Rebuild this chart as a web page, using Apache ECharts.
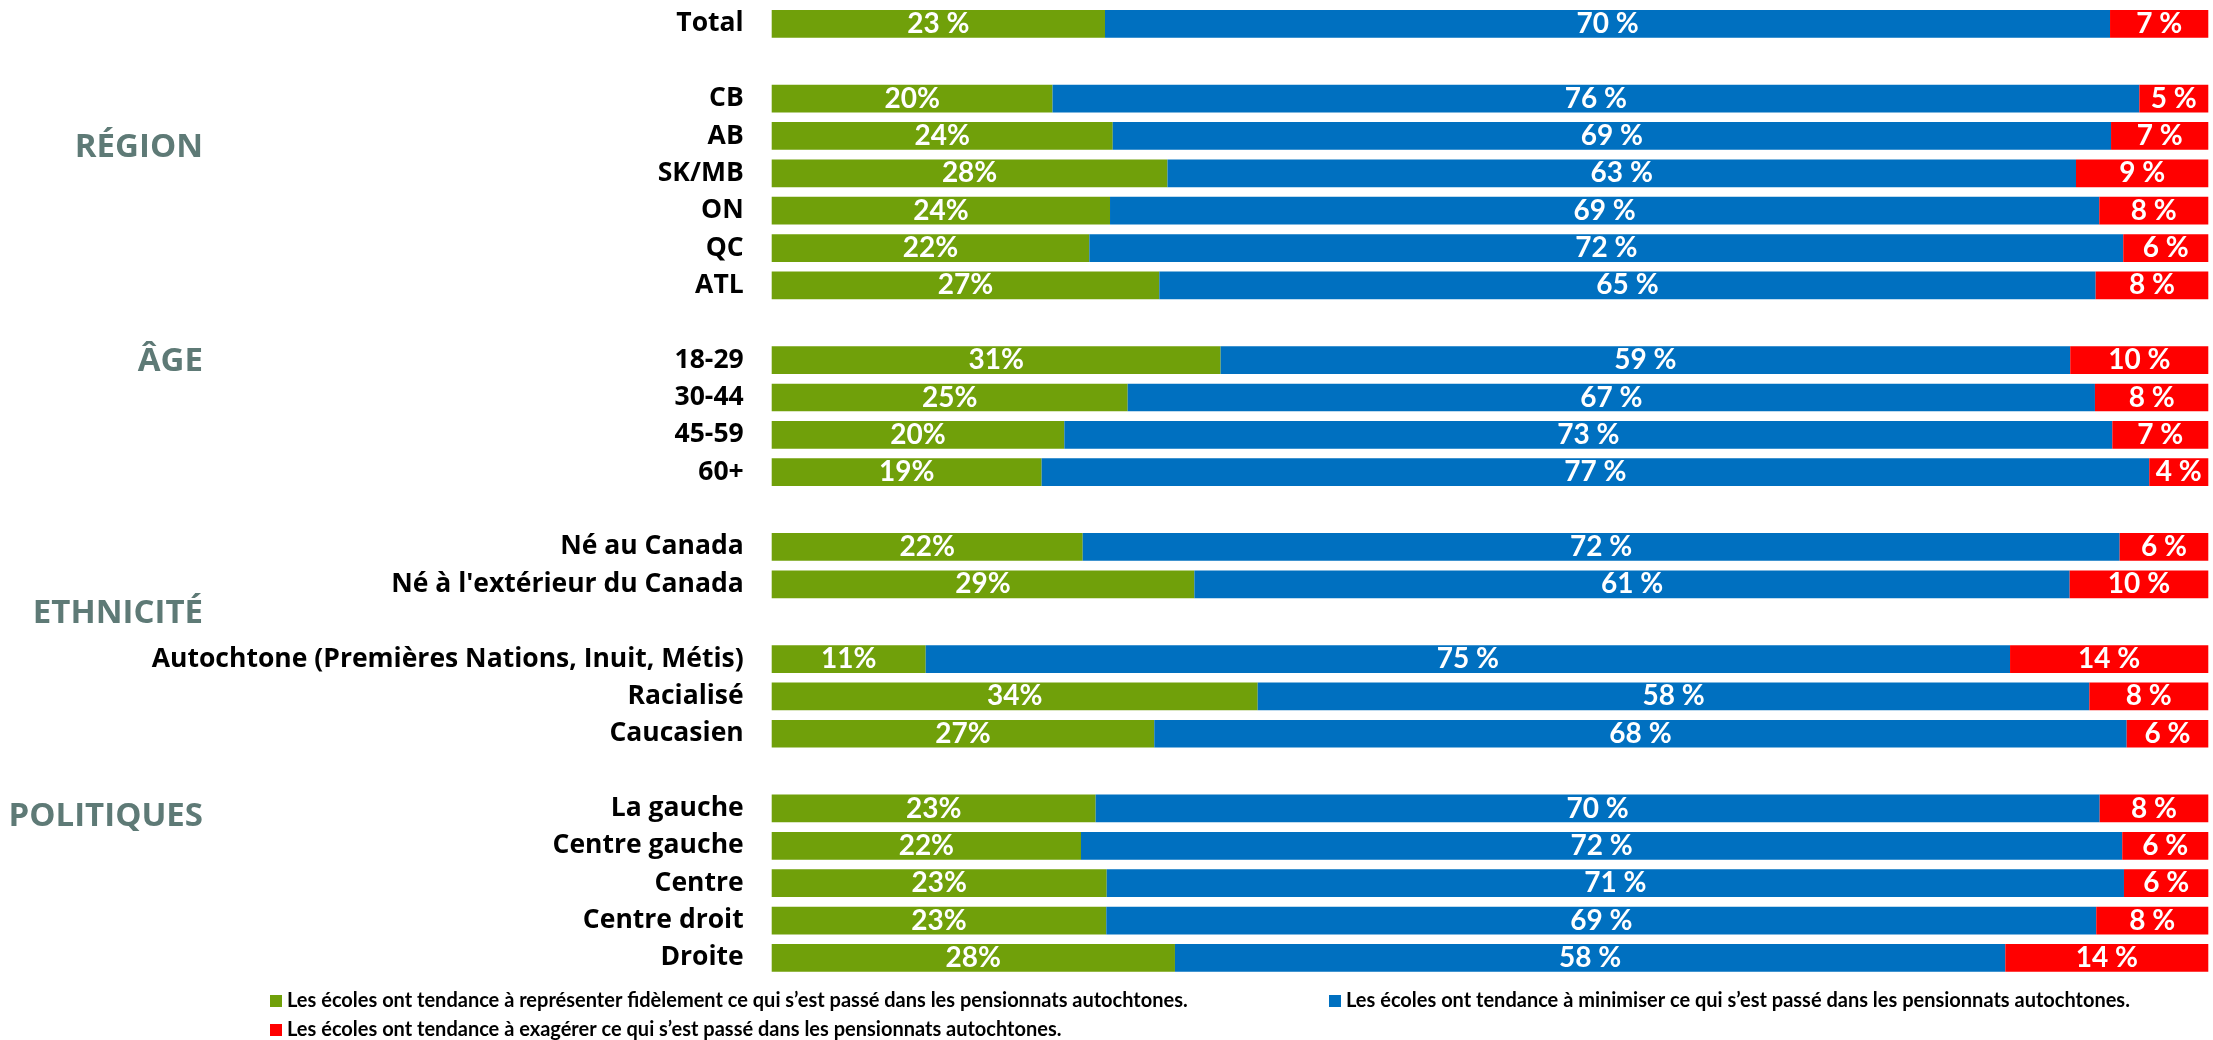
<!DOCTYPE html>
<html>
<head>
<meta charset="utf-8">
<script src="https://cdn.jsdelivr.net/npm/echarts@6/dist/echarts.min.js"></script>
<style>
html,body{margin:0;padding:0;background:#fff;}
#chart{width:2213px;height:1040px;}
</style>
</head>
<body>
<div id="chart"></div>
<script>
// Row categories (blank strings are spacer rows between groups)
const categories = [
  'Total', ' ',
  'CB', 'AB', 'SK/MB', 'ON', 'QC', 'ATL', '  ',
  '18-29', '30-44', '45-59', '60+', '   ',
  'Né au Canada', "Né à l'extérieur du Canada", '    ',
  'Autochtone (Premières Nations, Inuit, Métis)', 'Racialisé', 'Caucasien', '     ',
  'La gauche', 'Centre gauche', 'Centre', 'Centre droit', 'Droite'
];

// Shares (%)
const fidele = [23.20, null, 19.55, 23.74, 27.55, 23.55, 22.11, 26.98, null,
  31.25, 24.78, 20.37, 18.79, null, 21.65, 29.42, null, 10.72, 33.83, 26.63, null,
  22.55, 21.53, 23.32, 23.29, 28.07];
const minimise = [69.96, null, 75.65, 69.49, 63.24, 68.86, 71.97, 65.18, null,
  59.14, 67.33, 72.95, 77.10, null, 72.18, 60.93, null, 75.48, 57.89, 67.69, null,
  69.89, 72.48, 70.81, 68.91, 57.80];
const exagere = [6.84, null, 4.80, 6.77, 9.21, 7.59, 5.92, 7.84, null,
  9.61, 7.89, 6.68, 4.11, null, 6.17, 9.65, null, 13.80, 8.28, 5.68, null,
  7.56, 5.99, 5.87, 7.80, 14.13];

const seriesNames = [
  'Les écoles ont tendance à représenter fidèlement ce qui s’est passé dans les pensionnats autochtones.',
  'Les écoles ont tendance à minimiser ce qui s’est passé dans les pensionnats autochtones.',
  'Les écoles ont tendance à exagérer ce qui s’est passé dans les pensionnats autochtones.'
];
const colors = ['#70a00a', '#0070c0', '#ff0000'];

const groupLabels = ['RÉGION', 'ÂGE', 'ETHNICITÉ', 'POLITIQUES'];

const FONT = 'Lato';
const FONT2 = '"Open Sans"';
const chart = echarts.init(document.getElementById('chart'), null, {renderer: 'canvas'});

function labelFmt(kind) {
  return function (p) {
    if (p.value == null) return '';
    const v = Math.round(p.value);
    if (kind === 0 && p.dataIndex !== 0) return v + '%';
    return v + ' %';
  };
}

function makeSeries(i, data) {
  return {
    name: seriesNames[i],
    type: 'bar',
    stack: 'all',
    data: data,
    barWidth: 27.7,
    itemStyle: {color: colors[i]},
    label: {
      show: true,
      position: 'inside',
      color: '#ffffff',
      fontFamily: FONT,
      fontWeight: 'bold',
      fontSize: 28,
      formatter: labelFmt(i)
    },
    emphasis: {disabled: true},
    animation: false
  };
}

const groupY = [148, 362, 613.5, 817];

function legendCfg(i, left, top) {
  return {
    data: [seriesNames[i]], left: left, top: top,
    icon: 'rect', itemWidth: 12, itemHeight: 12, itemGap: 4,
    textStyle: {fontFamily: FONT, fontWeight: 'bold', fontSize: 20, color: '#000'},
    selectedMode: false
  };
}

chart.setOption({
  animation: false,
  backgroundColor: '#ffffff',
  grid: {left: 771.7, right: 4.7, top: 5.2, bottom: 63.4, containLabel: false},
  xAxis: {
    type: 'value', min: 0, max: 100,
    show: false
  },
  yAxis: {
    type: 'category',
    inverse: true,
    data: categories,
    axisLine: {show: false},
    axisTick: {show: false},
    axisLabel: {
      margin: 28,
      color: '#000000',
      fontFamily: FONT2,
      fontWeight: 'bold',
      fontSize: 26.5
    }
  },
  legend: [
    legendCfg(0, 265, 986),
    legendCfg(1, 1324, 986),
    legendCfg(2, 265, 1015)
  ],
  graphic: groupLabels.map(function (t, i) {
    return {
      type: 'text',
      x: 203,
      y: groupY[i],
      style: {
        text: t,
        fill: '#5e7a76',
        font: 'bold 33px ' + FONT2,
        textAlign: 'right',
        textVerticalAlign: 'middle'
      }
    };
  }),
  series: [makeSeries(0, fidele), makeSeries(1, minimise), makeSeries(2, exagere)]
});
</script>
</body>
</html>
